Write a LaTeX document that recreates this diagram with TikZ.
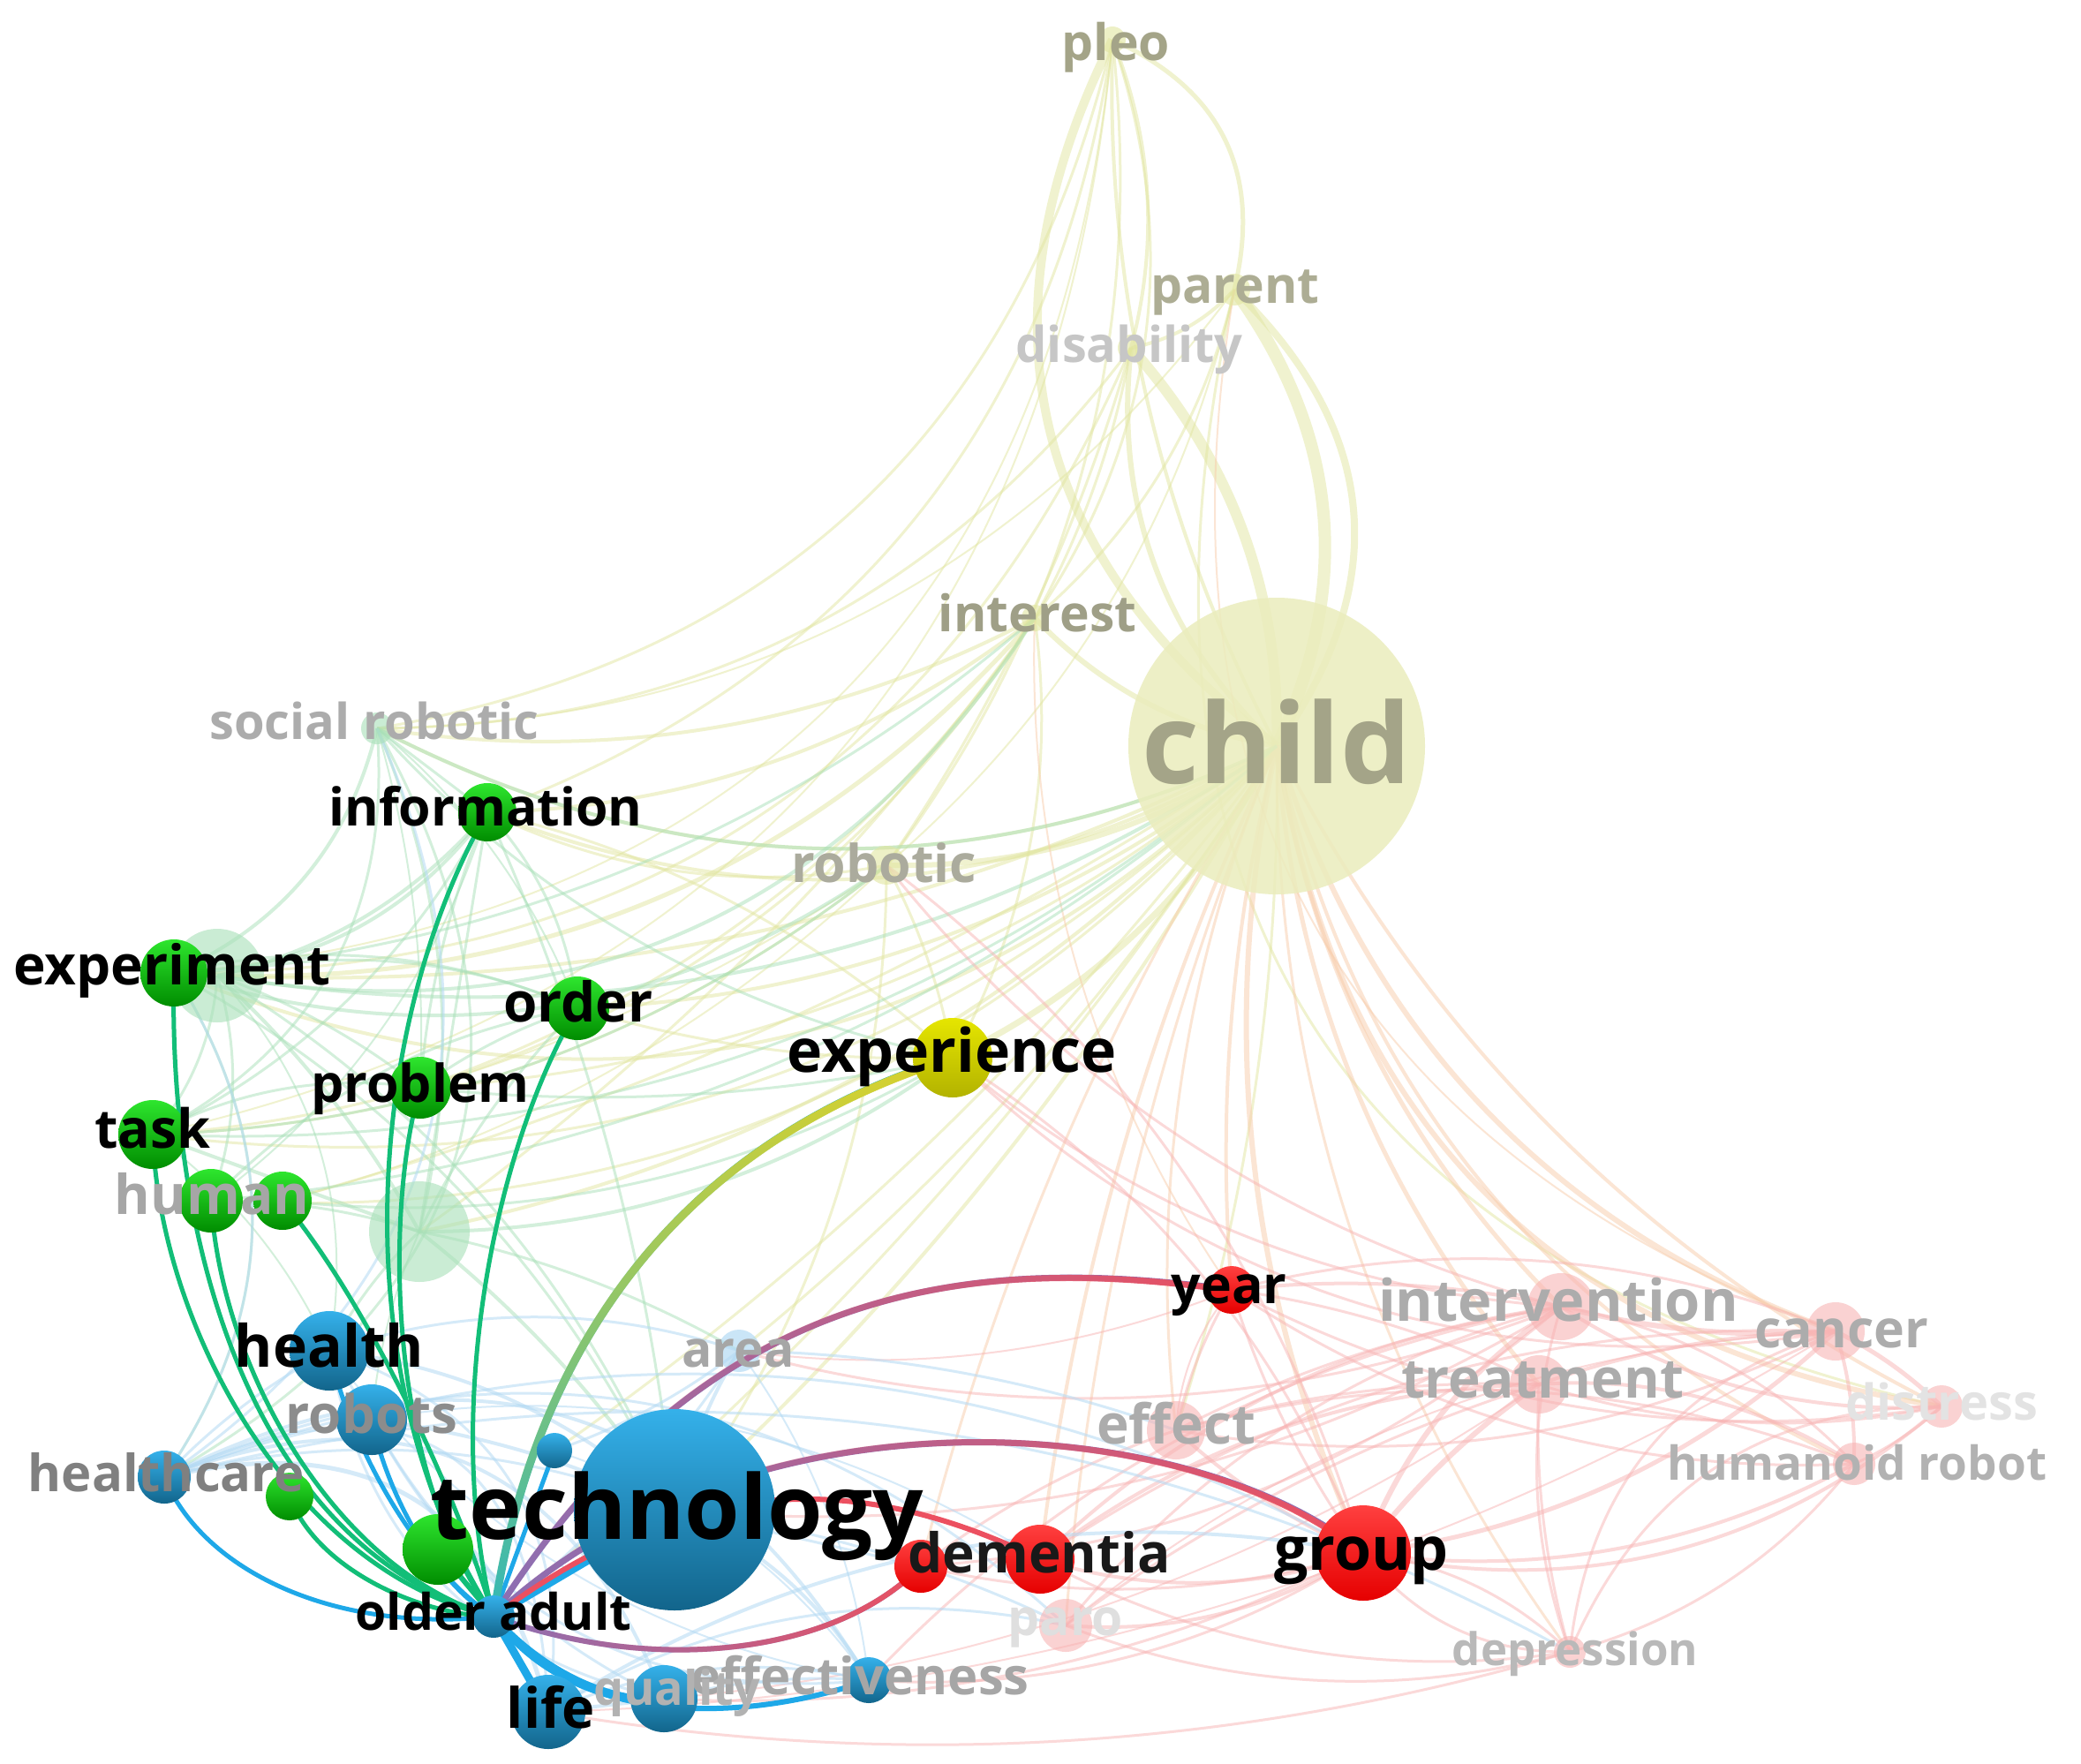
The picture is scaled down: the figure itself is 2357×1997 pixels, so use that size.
\documentclass[tikz,border=0pt]{standalone}
\usepackage{fontspec}
\newfontfamily\osfam{Open Sans}
\usetikzlibrary{fadings,calc}
\pgfdeclarelayer{bgw}\pgfdeclarelayer{fe}\pgfdeclarelayer{fn}\pgfdeclarelayer{sn}\pgfdeclarelayer{lb}
\pgfsetlayers{bgw,fe,fn,main,sn,lb}
\tikzfading[name=fadeE, left color=transparent!100, right color=transparent!0]
\tikzfading[name=fadeN, bottom color=transparent!100, top color=transparent!0]
\newcommand\F[1]{\osfam\bfseries\fontsize{#1}{#1}\selectfont}
\definecolor{cy}{HTML}{E2E6A0}
\definecolor{co}{HTML}{F8CCAA}
\definecolor{cg}{HTML}{A8E0B8}
\definecolor{cp}{HTML}{F8B4B4}
\definecolor{cb}{HTML}{B4DAF4}
\definecolor{hg}{HTML}{12BE78}
\definecolor{hb}{HTML}{1EA8E8}
\definecolor{hpu}{HTML}{8C70B4}
\definecolor{hre}{HTML}{EC5060}
\definecolor{olg}{HTML}{A4A488}
\begin{document}
\begin{tikzpicture}[x=1pt,y=-1pt,
  lw/.style={line width=#1pt},
  nd/.style={circle, inner sep=0pt, draw=none},
  fy/.style={nd, fill=cy, fill opacity=.6},
  fg/.style={nd, fill=cg, fill opacity=.6},
  fb/.style={nd, fill=cb, fill opacity=.7},
  fp/.style={nd, fill=cp, fill opacity=.6},
  gn/.style={nd, top color=green!80!white!90!black, bottom color=green!55!black},
  bn/.style={nd, top color=hb!90!white, bottom color=hb!60!black},
  rn/.style={nd, top color=red!75!white, bottom color=red!90!black},
  yn/.style={nd, top color=yellow!90!black, bottom color=yellow!70!black},
  lbl/.style={anchor=base, inner sep=0pt},
  ey/.style={cy, opacity=.5},
  eo/.style={co, opacity=.5},
  eg/.style={cg, opacity=.5},
  ep/.style={cp, opacity=.5},
  eb/.style={cb, opacity=.55}]
\begin{pgfonlayer}{bgw}
\fill[white] (0,0) rectangle (2357,1997);
\end{pgfonlayer}
\useasboundingbox (0,0) rectangle (2357,1997);

% ---------- faint nodes
\begin{pgfonlayer}{fn}
\node[nd, fill=cy!70!white, fill opacity=.85, minimum size=336] (child) at (1446,845) {};
\node[fy, minimum size=30] (pleo) at (1260,45) {};
\node[fy, minimum size=36] (parent) at (1398,328) {};
\node[fy, minimum size=30] (disability) at (1281,394) {};
\node[fy, minimum size=30] (interest) at (1172,700) {};
\node[fy, minimum size=44] (robotic) at (1004,980) {};
\node[fg, minimum size=36] (socrob) at (427,825) {};
\node[fg, minimum size=106] (expbig) at (246,1105) {};
\node[fg, minimum size=114] (faintbig) at (475,1395) {};
\node[fb, minimum size=48] (area) at (837,1530) {};
\node[fp, minimum size=76] (intervention) at (1768,1480) {};
\node[fp, minimum size=66] (cancer) at (2079,1508) {};
\node[fp, minimum size=66] (treatment) at (1743,1568) {};
\node[fp, minimum size=66] (effect) at (1332,1620) {};
\node[fp, minimum size=48] (distress) at (2199,1593) {};
\node[fp, minimum size=48] (humanoid) at (2100,1658) {};
\node[fp, minimum size=60] (paro) at (1207,1841) {};
\node[fp, minimum size=36] (depression) at (1778,1871) {};
\end{pgfonlayer}

% ---------- strong nodes
\begin{pgfonlayer}{sn}
\node[gn, minimum size=66] (information) at (552,920) {};
\node[gn, minimum size=76] (experiment) at (197,1102) {};
\node[gn, minimum size=72] (order) at (654,1142) {};
\node[yn, minimum size=90] (experience) at (1079,1198) {};
\node[gn, minimum size=70] (problem) at (476,1232) {};
\node[gn, minimum size=78] (task) at (173,1285) {};
\node[gn, minimum size=72] (humanA) at (239,1360) {};
\node[gn, minimum size=66] (humanB) at (320,1360) {};
\node[bn, minimum size=90] (health) at (373,1530) {};
\node[rn, minimum size=54] (year) at (1395,1461) {};
\node[bn, minimum size=80] (robots) at (421,1608) {};
\node[bn, minimum size=60] (healthcare) at (186,1673) {};
\node[gn, minimum size=54] (greensmall) at (328,1695) {};
\node[bn, minimum size=40] (smallblue) at (628,1643) {};
\node[bn, minimum size=228] (technology) at (764,1710) {};
\node[gn, minimum size=80] (greenmid) at (496,1755) {};
\node[rn, minimum size=60] (dementiaA) at (1043,1774) {};
\node[rn, minimum size=78] (dementiaB) at (1178,1766) {};
\node[rn, minimum size=108] (group) at (1544,1759) {};
\node[bn, minimum size=48] (olderadult) at (559,1831) {};
\node[bn, minimum size=52] (effectiveness) at (984,1903) {};
\node[bn, minimum size=76] (quality) at (752,1924) {};
\node[bn, minimum size=84] (life) at (621,1939) {};
\end{pgfonlayer}

% ---------- faint edges
\newcommand\bendedge[4]{%
  \draw[#3] let \p1=(#1.center), \p2=(#2.center), \n1={#4*0.011} in
    (\p1) .. controls ({\x1+(\x2-\x1)/3-\n1*(\y2-\y1)},{\y1+(\y2-\y1)/3+\n1*(\x2-\x1)})
    and ({\x2-(\x2-\x1)/3-\n1*(\y2-\y1)},{\y2-(\y2-\y1)/3+\n1*(\x2-\x1)}) .. (\p2);}
\begin{pgfonlayer}{fe}
\foreach \a/\b/\bd/\w in {child/pleo/25/10, child/pleo/8/4, child/parent/-18/14, child/parent/-26/8,
  child/disability/-12/12, child/disability/15/6, parent/pleo/-25/5,
  pleo/disability/10/4, pleo/interest/15/3, pleo/socrob/20/3, pleo/experiment/25/2, pleo/robotic/12/3,
  parent/interest/10/3, parent/robotic/10/2, parent/disability/10/4, parent/distress/-30/3,
  disability/interest/5/3, disability/socrob/15/3, child/interest/10/6, child/robotic/10/6,
  child/experience/10/7, child/socrob/15/4, child/information/15/4, child/experiment/20/4,
  child/order/10/4, child/problem/10/3, child/task/15/3, child/faintbig/10/4, child/technology/5/4,
  child/area/5/3, child/olderadult/5/3, child/effect/5/3, interest/experiment/15/5, interest/socrob/10/4,
  interest/information/10/4, interest/experience/10/3, robotic/information/10/3, robotic/technology/10/3,
  robotic/experience/5/3, experience/order/5/3, pleo/information/18/3, disability/experiment/20/3,
  interest/task/15/3, robotic/task/10/3, child/humanA/15/3, child/expbig/8/4, child/humanB/5/3,
  parent/socrob/15/2, pleo/task/22/2, disability/robotic/5/3, interest/problem/10/3, child/smallblue/5/3,
  robotic/problem/5/2, robotic/humanB/8/2, interest/faintbig/5/3, experience/information/-8/3}
  {\bendedge{\a}{\b}{ey, lw=\w}{\bd}}
\foreach \a/\b/\bd/\w in {child/cancer/-15/6, child/distress/-22/6, child/humanoid/-15/4, child/group/-10/6,
  child/dementiaB/-5/4, child/intervention/-10/5, child/treatment/-10/5, child/depression/-10/3,
  child/paro/-5/3, child/year/-5/4, parent/cancer/-25/2, child/distress/-10/4, child/effect/-8/3,
  child/dementiaA/-5/3, interest/year/-10/2}
  {\bendedge{\a}{\b}{eo, lw=\w}{\bd}}
\foreach \a/\b/\bd/\w in {experiment/socrob/-15/4, experiment/information/-15/4, experiment/order/10/3,
  socrob/information/0/3, socrob/faintbig/10/3, information/order/10/3, information/problem/-5/3,
  information/faintbig/0/3, information/task/10/3, task/problem/10/3, task/faintbig/0/4,
  humanA/order/10/3, problem/order/5/3, faintbig/order/5/3, faintbig/technology/5/4,
  experiment/technology/10/3, socrob/healthcare/30/3, experiment/healthcare/20/3,
  information/technology/5/3, faintbig/experience/-10/4, expbig/information/-10/4, expbig/order/10/3,
  expbig/problem/5/3, expbig/faintbig/5/4, expbig/technology/10/3, socrob/experience/-10/3,
  experiment/robotic/-15/4, task/robotic/-10/3, humanB/experience/-10/3, socrob/task/20/3,
  faintbig/area/5/3, problem/experience/-5/3, expbig/interest/-20/4, socrob/child/-15/4,
  expbig/child/-12/4, experiment/interest/-10/3, task/child/-12/3, humanA/child/-10/3,
  socrob/order/8/2, expbig/humanA/10/3, expbig/task/10/3, faintbig/humanA/-5/3, information/humanA/10/2,
  socrob/problem/5/2, expbig/health/15/2, task/health/8/2, faintbig/health/-5/3, faintbig/robots/-5/2}
  {\bendedge{\a}{\b}{eg, lw=\w}{\bd}}
\foreach \a/\b/\bd/\w in {group/intervention/10/6, group/treatment/5/6, group/cancer/-10/5,
  group/distress/-15/4, group/humanoid/-10/4, group/depression/10/3, group/effect/5/4, group/year/5/3,
  dementiaB/intervention/10/4, dementiaB/treatment/10/4, dementiaB/group/-10/4, dementiaB/cancer/10/3,
  paro/intervention/10/3, paro/group/-10/4, year/intervention/5/4, year/cancer/10/3, year/treatment/5/3,
  effect/intervention/5/3, effect/treatment/5/3, intervention/cancer/-5/6, intervention/distress/-10/4,
  treatment/cancer/5/4, treatment/humanoid/10/4, cancer/distress/5/5, cancer/humanoid/5/4,
  distress/humanoid/5/3, depression/intervention/10/3, depression/cancer/20/3, depression/treatment/5/3,
  depression/humanoid/-10/3, depression/distress/20/3, effect/year/5/3, paro/treatment/5/3,
  dementiaA/effect/5/3, year/distress/-10/3, effectiveness/intervention/10/3, life/depression/-7/3,
  quality/group/-8/3, technology/intervention/-10/3, area/intervention/-10/3, effect/cancer/-10/3,
  experience/intervention/-10/3, experience/group/10/3, robotic/group/10/3, robotic/intervention/-10/3,
  experience/cancer/-15/3, effect/humanoid/10/3, year/humanoid/-10/3, dementiaA/intervention/-10/3,
  dementiaA/group/-8/3, paro/cancer/10/2, paro/depression/-10/3, dementiaB/depression/-10/3,
  group/depression/-15/3, year/effect/-10/2, intervention/humanoid/10/3, treatment/distress/-8/3,
  effectiveness/group/-10/3, life/cancer/-8/2, quality/treatment/-8/2, area/year/-8/2}
  {\bendedge{\a}{\b}{ep, lw=\w}{\bd}}
\foreach \a/\b/\bd/\w in {healthcare/life/30/5, healthcare/quality/30/4, healthcare/effectiveness/28/4,
  healthcare/technology/10/3, healthcare/health/5/3, health/technology/10/4, robots/technology/5/4,
  health/robots/0/3, technology/area/5/4, technology/effectiveness/10/4, life/quality/0/4,
  life/effectiveness/10/3, quality/effectiveness/5/3, area/smallblue/5/3, technology/paro/5/3,
  technology/dementiaA/0/3, life/paro/12/3, life/group/12/4, healthcare/paro/20/3, area/olderadult/5/3,
  area/effect/5/3, healthcare/experiment/-20/3, healthcare/socrob/-25/3, healthcare/group/14/3,
  health/area/10/3, robots/effectiveness/-20/3, healthcare/depression/12/3, health/quality/-20/3,
  healthcare/life/45/3, health/life/25/3, robots/quality/-10/3, healthcare/dementiaB/15/2,
  area/effectiveness/8/2, smallblue/effectiveness/10/2, health/effectiveness/-12/2}
  {\bendedge{\a}{\b}{eb, lw=\w}{\bd}}
\end{pgfonlayer}

% ---------- highlighted edges
\draw[hg, lw=5] (information.center) .. controls (420,1150) and (380,1550) .. (olderadult.center);
\draw[hg, lw=5] (experiment.center) .. controls (190,1400) and (280,1750) .. (olderadult.center);
\draw[hg, lw=5] (task.center) .. controls (180,1500) and (330,1780) .. (olderadult.center);
\draw[hg, lw=5] (humanA.center) .. controls (250,1550) and (380,1780) .. (olderadult.center);
\draw[hg, lw=5] (humanB.center) .. controls (420,1480) and (520,1700) .. (olderadult.center);
\draw[hg, lw=5] (problem.center) .. controls (440,1350) and (430,1650) .. (olderadult.center);
\draw[hg, lw=5] (order.center) .. controls (560,1300) and (500,1600) .. (olderadult.center);
\draw[hg, lw=5] (greensmall.center) .. controls (360,1780) and (480,1830) .. (olderadult.center);
\draw[hg, lw=6] (greenmid.center) -- (olderadult.center);
\draw[hb, lw=5] (healthcare.center) .. controls (230,1780) and (380,1850) .. (olderadult.center);
\draw[hb, lw=5] (health.center) .. controls (400,1650) and (480,1780) .. (olderadult.center);
\draw[hb, lw=5] (robots.center) .. controls (440,1700) and (500,1800) .. (olderadult.center);
\draw[hb, lw=5] (smallblue.center) -- (olderadult.center);
\draw[hb, lw=8] (technology.center) -- (olderadult.center);
\draw[hb, lw=9] (life.center) -- (olderadult.center);
\draw[hb, lw=8] (olderadult.center) .. controls (620,1900) and (700,1930) .. (quality.center);
\draw[hb, lw=6] (olderadult.center) .. controls (650,1960) and (850,1950) .. (effectiveness.center);
% experience
\draw[teal!70!cyan!80!white, lw=9] (olderadult.center) .. controls (600,1550) and (750,1300) .. (experience.center);
\draw[yellow!60!olive!80!white, lw=9, path fading=fadeN] (olderadult.center) .. controls (600,1550) and (750,1300) .. (experience.center);
% year
\draw[hpu, lw=7] (olderadult.center) .. controls (800,1450) and (1100,1420) .. (year.center);
\draw[hre, lw=7, path fading=fadeE] (olderadult.center) .. controls (800,1450) and (1100,1420) .. (year.center);
% group
\draw[hpu, lw=7] (olderadult.center) .. controls (850,1560) and (1350,1600) .. (group.center);
\draw[hre, lw=7, path fading=fadeE] (olderadult.center) .. controls (850,1560) and (1350,1600) .. (group.center);
% dementia
\draw[hre, lw=6] (olderadult.center) .. controls (800,1650) and (1000,1680) .. (dementiaB.center);
\draw[hpu, lw=6] (olderadult.center) .. controls (750,1900) and (950,1870) .. (dementiaA.center);
\draw[hre, lw=6, path fading=fadeE] (olderadult.center) .. controls (750,1900) and (950,1870) .. (dementiaA.center);

% ---------- labels
\begin{pgfonlayer}{lb}
\node[lbl, text=olg, font=\F{57}] (l-pleo) at (1264,68) {pleo};
\node[lbl, text=olg!90!white, font=\F{57}] (l-parent) at (1399,343) {parent};
\node[lbl, text=gray!45!white, font=\F{56}] (l-disability) at (1279,410) {disability};
\node[lbl, text=olg!85!gray, font=\F{57}] (l-interest) at (1175,715) {interest};
\node[lbl, text=olg, font=\F{126}] (l-child) at (1446,887) {child};
\node[lbl, text=gray!65!white, font=\F{56}] (l-socrob) at (424,837) {social robotic};
\node[lbl, text=black, font=\F{59}] (l-information) at (550,935) {information};
\node[lbl, text=olg!60!gray!80!white, font=\F{59}] (l-robotic) at (1001,999) {robotic};
\node[lbl, text=black, font=\F{62}] (l-experiment) at (195,1115) {experiment};
\node[lbl, text=black, font=\F{62}] (l-order) at (655,1157) {order};
\node[lbl, text=black, font=\F{68}] (l-experience) at (1078,1214) {experience};
\node[lbl, text=black, font=\F{59}] (l-problem) at (476,1248) {problem};
\node[lbl, text=black, font=\F{61}] (l-task) at (173,1300) {task};
\node[lbl, text=gray!70!white, font=\F{62}] (l-human) at (240,1375) {human};
\node[lbl, text=black, font=\F{66}] (l-health) at (373,1548) {health};
\node[lbl, text=gray!70!white, font=\F{57}] (l-area) at (836,1548) {area};
\node[lbl, text=black, font=\F{59}] (l-year) at (1392,1476) {year};
\node[lbl, text=gray!65!white, font=\F{65}] (l-intervention) at (1765,1496) {intervention};
\node[lbl, text=gray!65!white, font=\F{59}] (l-cancer) at (2086,1526) {cancer};
\node[lbl, text=gray!65!white, font=\F{62}] (l-treatment) at (1747,1583) {treatment};
\node[lbl, text=gray!90!white, font=\F{60}] (l-robots) at (421,1623) {robots};
\node[lbl, text=gray!65!white, font=\F{62}] (l-effect) at (1332,1635) {effect};
\node[lbl, text=gray!22!white, font=\F{56}] (l-distress) at (2199,1608) {distress};
\node[lbl, text=gray!60!white, font=\F{53}] (l-humanoid) at (2103,1676) {humanoid robot};
\node[lbl, text=gray, font=\F{58}] (l-healthcare) at (188,1689) {healthcare};
\node[lbl, text=black, font=\F{101}] (l-technology) at (767,1743) {technology};
\node[lbl, text=black!90, font=\F{62}] (l-dementia) at (1177,1781) {dementia};
\node[lbl, text=black, font=\F{68}] (l-group) at (1542,1778) {group};
\node[lbl, text=black, font=\F{57}] (l-older) at (559,1846) {older adult};
\node[lbl, text=gray!25!white, font=\F{57}] (l-paro) at (1207,1852) {paro};
\node[lbl, text=gray!55!white, font=\F{51}] (l-depression) at (1784,1886) {depression};
\node[lbl, text=gray!70!white, font=\F{58}] (l-effectiveness) at (974,1919) {effectiveness};
\node[lbl, text=gray!60!white, font=\F{54}] (l-quality) at (767,1931) {quality};
\node[lbl, text=black, font=\F{63}] (l-life) at (624,1957) {life};
\end{pgfonlayer}
\end{tikzpicture}
\end{document}
